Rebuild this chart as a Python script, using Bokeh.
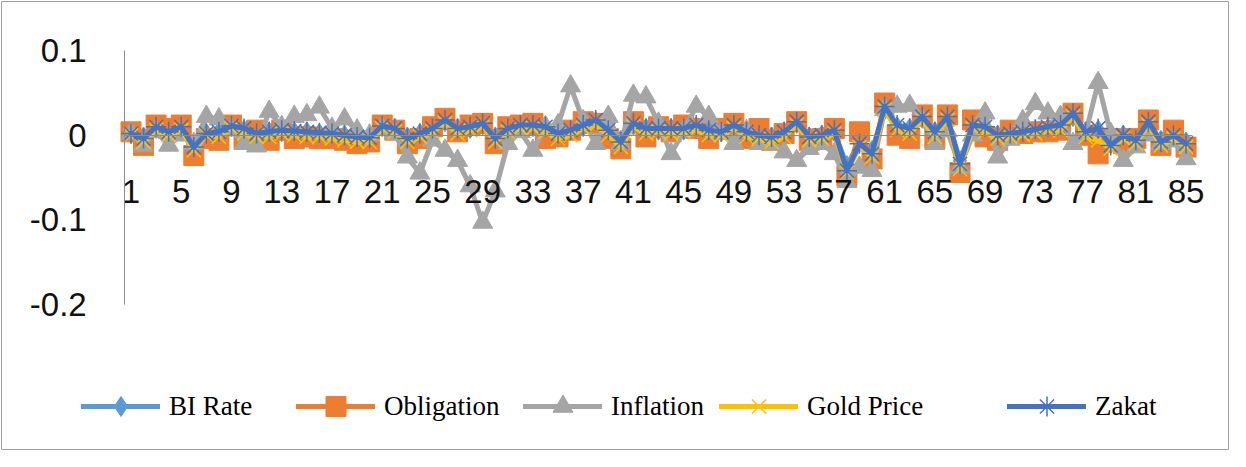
from bokeh.plotting import figure
from bokeh.models import FixedTicker, Legend, LegendItem, Range1d
from bokeh.embed import file_html
from bokeh.resources import INLINE

periods = list(range(1, 86))

bi_rate = [0.002,-0.002,0.008,0.004,0.008,-0.010,0.002,0.004,0.010,0.006,
           0.002,0.004,0.004,0.004,0.004,0.002,0.002,0.000,-0.002,-0.002,
           0.010,0.008,-0.002,0.002,0.006,0.016,0.008,0.008,0.012,-0.002,
           0.008,0.010,0.010,0.008,0.002,0.006,0.010,0.016,0.006,-0.006,
           0.012,0.008,0.006,0.008,0.006,0.010,0.006,0.004,0.010,0.004,
           0.000,-0.002,0.004,0.014,-0.002,0.000,0.004,-0.036,-0.008,-0.018,
           0.030,0.010,0.008,0.020,0.004,0.020,-0.030,0.010,0.008,0.000,
           0.002,0.004,0.006,0.008,0.010,0.022,0.004,0.006,-0.010,0.000,
           -0.004,0.014,-0.006,0.000,-0.008]

obligation = [0.004,-0.012,0.012,0.008,0.012,-0.024,-0.004,-0.006,0.012,-0.004,
              0.006,-0.006,0.006,-0.004,-0.002,-0.004,-0.004,-0.006,-0.010,-0.008,
              0.012,0.006,-0.010,-0.004,0.010,0.020,0.004,0.012,0.014,-0.010,
              0.010,0.012,0.014,-0.004,-0.002,0.006,0.016,0.014,-0.004,-0.016,
              0.016,-0.002,0.010,0.004,0.012,0.008,-0.004,0.008,0.014,-0.004,
              0.008,-0.006,0.002,0.016,-0.006,-0.004,0.008,-0.048,0.004,-0.028,
              0.038,0.000,-0.004,0.024,-0.004,0.024,-0.044,0.018,-0.002,-0.006,
              0.006,0.002,0.004,0.004,0.006,0.026,0.000,-0.022,-0.004,-0.010,
              -0.004,0.018,-0.012,0.006,-0.014]

inflation = [0.002,-0.012,0.004,-0.012,0.000,-0.010,0.022,0.019,0.006,-0.010,
             -0.013,0.028,0.010,0.022,0.024,0.033,0.008,0.019,0.006,0.000,
             0.008,0.002,-0.026,-0.045,-0.006,-0.018,-0.030,-0.060,-0.103,-0.066,
             -0.010,0.004,-0.018,0.010,0.012,0.058,0.017,-0.010,0.022,-0.010,
             0.047,0.045,0.014,-0.022,0.005,0.034,0.022,0.002,-0.010,0.005,
             -0.010,-0.010,-0.020,-0.030,-0.016,-0.010,-0.022,-0.055,-0.038,-0.042,
             0.030,0.034,0.035,0.017,-0.010,0.005,-0.038,0.000,0.026,-0.026,
             -0.005,0.017,0.037,0.026,0.022,-0.010,0.002,0.062,0.002,-0.030,
             -0.014,0.000,-0.010,-0.007,-0.028]

gold_price = [0.000,-0.008,0.006,0.000,0.006,-0.018,0.000,-0.002,0.008,0.002,
              -0.002,-0.002,0.002,0.000,-0.002,-0.002,-0.004,-0.006,-0.008,-0.008,
              0.008,0.004,-0.008,-0.002,0.004,0.014,0.002,0.006,0.010,-0.008,
              0.004,0.008,0.008,0.004,-0.004,0.000,0.008,0.012,0.000,-0.014,
              0.010,0.002,0.004,0.002,0.004,0.006,0.000,0.000,0.008,-0.002,
              -0.004,-0.008,-0.002,0.012,-0.006,-0.004,0.002,-0.044,-0.014,-0.026,
              0.030,0.006,0.002,0.018,-0.002,0.018,-0.040,0.008,0.004,-0.004,
              -0.002,0.000,0.002,0.006,0.006,0.022,-0.002,-0.006,-0.016,-0.004,
              -0.010,0.012,-0.012,-0.004,-0.014]

zakat = [0.002,-0.004,0.010,0.004,0.010,-0.014,0.002,0.004,0.011,0.008,
         0.002,0.004,0.006,0.005,0.004,0.003,0.002,0.000,-0.002,-0.003,
         0.011,0.008,-0.004,0.002,0.008,0.018,0.008,0.010,0.014,-0.004,
         0.008,0.012,0.012,0.010,0.002,0.006,0.012,0.018,0.006,-0.008,
         0.014,0.008,0.008,0.008,0.008,0.012,0.006,0.004,0.012,0.004,
         0.000,-0.002,0.004,0.016,-0.002,0.000,0.006,-0.042,-0.010,-0.022,
         0.034,0.012,0.008,0.022,0.004,0.022,-0.034,0.012,0.010,0.000,
         0.002,0.004,0.007,0.010,0.012,0.026,0.004,0.008,-0.012,0.000,
         -0.006,0.016,-0.008,0.000,-0.010]

x_ticks = list(range(1, 86, 4))
y_ticks = [-0.2, -0.1, 0, 0.1]
y_labels = ["-0.2", "-0.1", "0", "0.1"]

series_names = ["BI Rate", "Obligation", "Inflation", "Gold Price", "Zakat"]
series_values = [bi_rate, obligation, inflation, gold_price, zakat]
series_colors = ["#5B9BD5", "#ED7D31", "#A5A5A5", "#FFC000", "#4472C4"]
series_markers = ["diamond", "square", "triangle", "x", "asterisk"]

p = figure(width=1229, height=450, output_backend="svg", toolbar_location=None,
           x_range=Range1d(-9.31, 88.38), y_range=Range1d(-0.3711, 0.1579),
           min_border_left=1, min_border_right=1, min_border_top=1, min_border_bottom=1)
p.background_fill_color = "white"
p.border_fill_color = "white"
p.outline_line_color = "#a0a0a0"
p.outline_line_width = 1
p.xgrid.visible = False
p.ygrid.visible = False

# axes drawn inside the frame
p.xaxis.fixed_location = 0
p.yaxis.fixed_location = 0.5
p.xaxis.bounds = (0.5, 85.5)
p.yaxis.bounds = (-0.2, 0.1)
p.xaxis.ticker = FixedTicker(ticks=x_ticks)
p.yaxis.ticker = FixedTicker(ticks=y_ticks)
p.yaxis.major_label_overrides = {t: l for t, l in zip(y_ticks, y_labels)}
for ax in (p.xaxis[0], p.yaxis[0]):
    ax.axis_line_color = "#8c8c8c"
    ax.axis_line_width = 1
    ax.major_tick_in = 0
    ax.major_tick_out = 0
    ax.minor_tick_in = 0
    ax.minor_tick_out = 0
    ax.major_label_text_font = "Liberation Sans"
    ax.major_label_text_font_size = "33px"
    ax.major_label_text_color = "#111111"
p.xaxis.major_label_standoff = 45
p.yaxis.major_label_standoff = 38

renderers = []
for name, vals, col, mk in zip(series_names, series_values, series_colors, series_markers):
    lr = p.line(periods, vals, line_color=col, line_width=5, line_join="round", line_cap="round")
    if mk in ("x", "asterisk"):
        sr = p.scatter(periods, vals, marker=mk, size=20, line_color=col, line_width=1.5,
                       fill_color=None)
    else:
        sr = p.scatter(periods, vals, marker=mk, size=20, line_color=col, fill_color=col)
    renderers.append((name, lr, sr))

legend_x = [80, 295, 522, 718, 1006]
for (name, lr, sr), lx in zip(renderers, legend_x):
    leg = Legend(items=[LegendItem(label=name, renderers=[lr, sr])],
                 location=(lx, 18), orientation="horizontal",
                 glyph_width=79, glyph_height=50, label_standoff=9,
                 padding=0, margin=0, spacing=0,
                 border_line_alpha=0, background_fill_alpha=0,
                 label_text_font="Liberation Serif", label_text_font_size="27px",
                 label_text_color="#000000")
    p.add_layout(leg)

open("out.html", "w").write(file_html(p, INLINE))
